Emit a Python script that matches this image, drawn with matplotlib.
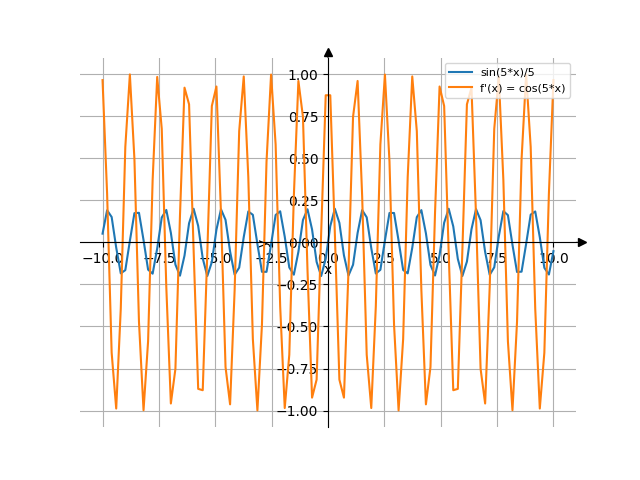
import numpy as np
import matplotlib
matplotlib.use("Agg")
import matplotlib.pyplot as plt
from matplotlib import transforms

# sample points (100 evenly spaced samples on [-10, 10])
x = [-10.000, -9.798, -9.596, -9.394, -9.192, -8.990, -8.788, -8.586, -8.384, -8.182,
     -7.980, -7.778, -7.576, -7.374, -7.172, -6.970, -6.768, -6.566, -6.364, -6.162,
     -5.960, -5.758, -5.556, -5.354, -5.152, -4.949, -4.747, -4.545, -4.343, -4.141,
     -3.939, -3.737, -3.535, -3.333, -3.131, -2.929, -2.727, -2.525, -2.323, -2.121,
     -1.919, -1.717, -1.515, -1.313, -1.111, -0.909, -0.707, -0.505, -0.303, -0.101,
     0.101, 0.303, 0.505, 0.707, 0.909, 1.111, 1.313, 1.515, 1.717, 1.919,
     2.121, 2.323, 2.525, 2.727, 2.929, 3.131, 3.333, 3.535, 3.737, 3.939,
     4.141, 4.343, 4.545, 4.747, 4.949, 5.152, 5.354, 5.556, 5.758, 5.960,
     6.162, 6.364, 6.566, 6.768, 6.970, 7.172, 7.374, 7.576, 7.778, 7.980,
     8.182, 8.384, 8.586, 8.788, 8.990, 9.192, 9.394, 9.596, 9.798, 10.000]

# sin(5*x)/5
f_vals = [0.052, 0.191, 0.151, -0.031, -0.184, -0.165, 0.009, 0.174, 0.176, 0.014,
          -0.162, -0.186, -0.036, 0.148, 0.193, 0.057, -0.132, -0.198, -0.078, 0.114,
          0.200, 0.098, -0.095, -0.200, -0.117, 0.075, 0.197, 0.134, -0.054, -0.192,
          -0.150, 0.032, 0.184, 0.164, -0.010, -0.175, -0.175, -0.012, 0.163, 0.185,
          0.034, -0.149, -0.192, -0.056, 0.133, 0.197, 0.077, -0.116, -0.200, -0.097,
          0.097, 0.200, 0.116, -0.077, -0.197, -0.133, 0.056, 0.192, 0.149, -0.034,
          -0.185, -0.163, 0.012, 0.175, 0.175, 0.010, -0.164, -0.184, -0.032, 0.150,
          0.192, 0.054, -0.134, -0.197, -0.075, 0.117, 0.200, 0.095, -0.098, -0.200,
          -0.114, 0.078, 0.198, 0.132, -0.057, -0.193, -0.148, 0.036, 0.186, 0.162,
          -0.014, -0.176, -0.174, -0.009, 0.165, 0.184, 0.031, -0.151, -0.191, -0.052]

# f'(x) = cos(5*x)
df_vals = [0.965, 0.291, -0.656, -0.988, -0.395, 0.568, 0.999, 0.495, -0.473, -0.998,
           -0.588, 0.372, 0.984, 0.675, -0.266, -0.958, -0.752, 0.158, 0.920, 0.821,
           -0.047, -0.871, -0.879, -0.064, 0.811, 0.927, 0.175, -0.741, -0.963, -0.283,
           0.662, 0.987, 0.388, -0.575, -0.999, -0.488, 0.480, 0.998, 0.582, -0.380,
           -0.985, -0.668, 0.275, 0.960, 0.747, -0.166, -0.923, -0.816, 0.056, 0.875,
           0.875, 0.056, -0.816, -0.923, -0.166, 0.747, 0.960, 0.275, -0.668, -0.985,
           -0.380, 0.582, 0.998, 0.480, -0.488, -0.999, -0.575, 0.388, 0.987, 0.662,
           -0.283, -0.963, -0.741, 0.175, 0.927, 0.811, -0.064, -0.879, -0.871, -0.047,
           0.821, 0.920, 0.158, -0.752, -0.958, -0.266, 0.675, 0.984, 0.372, -0.588,
           -0.998, -0.473, 0.495, 0.999, 0.568, -0.395, -0.988, -0.656, 0.291, 0.965]

labels = ["sin(5*x)/5", "f'(x) = cos(5*x)"]

fig, ax = plt.subplots(figsize=(6.4, 4.8), dpi=100)
ax.plot(x, f_vals, label=labels[0])
ax.plot(x, df_vals, label=labels[1])

# axes through the origin, sympy-style
ax.spines["left"].set_position("zero")
ax.spines["bottom"].set_position("zero")
ax.spines["right"].set_color("none")
ax.spines["top"].set_color("none")

# arrow heads a little outside the axes box, spine line continued up to them
off = 6
tx = transforms.offset_copy(ax.get_yaxis_transform(), fig, x=off, y=0, units="dots")
ty = transforms.offset_copy(ax.get_xaxis_transform(), fig, x=0, y=off, units="dots")
ax.plot(1, 0, ">k", transform=tx, clip_on=False)
ax.plot(0, 1, "^k", transform=ty, clip_on=False)
ax.annotate("", xy=(1, 0), xycoords=ax.get_yaxis_transform(),
            xytext=(off, 0), textcoords="offset pixels",
            arrowprops=dict(arrowstyle="-", color="k", lw=0.8, shrinkA=0, shrinkB=0))
ax.annotate("", xy=(0, 1), xycoords=ax.get_xaxis_transform(),
            xytext=(0, off), textcoords="offset pixels",
            arrowprops=dict(arrowstyle="-", color="k", lw=0.8, shrinkA=0, shrinkB=0))

ax.set_xlabel("x", labelpad=-2)
ax.set_ylabel("y")
ax.grid(True)
ax.legend(fontsize=8)

plt.savefig("out.png", dpi=100)
